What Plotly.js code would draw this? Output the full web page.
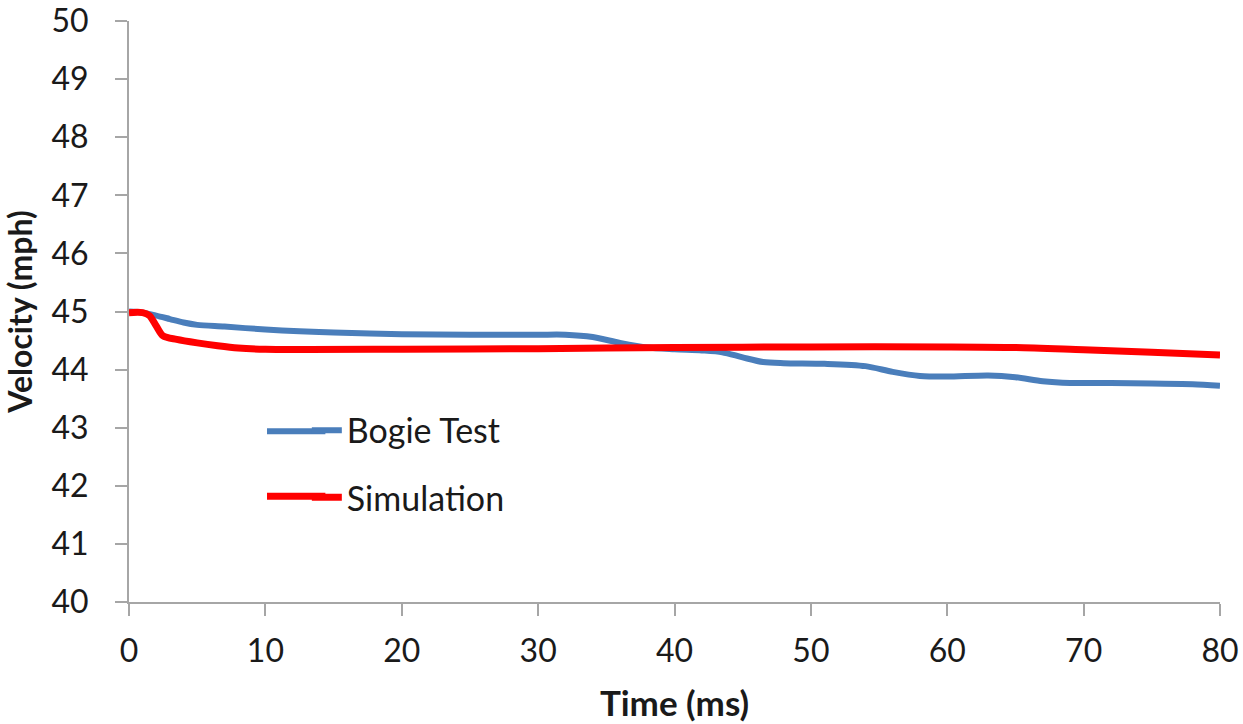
<!DOCTYPE html>
<html>
<head>
<meta charset="utf-8">
<script src="https://cdn.plot.ly/plotly-3.0.1.min.js"></script>
<style>html,body{margin:0;padding:0;background:#fff;}#chart{width:1243px;height:724px;}</style>
</head>
<body>
<div id="chart"></div>
<script>
// Bogie Test (measured) velocity, mph vs time, ms
var bogieTime = [0, 1, 2, 3, 4, 5, 7, 10, 12.5, 15, 20, 25, 30, 32, 34, 36, 38, 40, 42, 43.5, 45, 46.5, 48, 51, 54, 56, 58, 60, 63, 65, 67, 69, 72, 75, 78, 80];
var bogieVel  = [45.0, 44.98, 44.93, 44.87, 44.81, 44.77, 44.74, 44.69, 44.66, 44.64, 44.61, 44.60, 44.60, 44.60, 44.56, 44.46, 44.38, 44.35, 44.33, 44.30, 44.21, 44.13, 44.11, 44.10, 44.06, 43.96, 43.89, 43.88, 43.90, 43.87, 43.80, 43.77, 43.77, 43.76, 43.75, 43.72];
// Simulation velocity
var simTime = [0, 1, 1.5, 2, 2.5, 3.5, 5, 6.5, 8, 10, 20, 30, 40, 50, 60, 65, 70, 75, 80];
var simVel  = [44.98, 44.98, 44.93, 44.75, 44.58, 44.52, 44.46, 44.41, 44.37, 44.35, 44.35, 44.36, 44.38, 44.39, 44.39, 44.38, 44.34, 44.30, 44.25];

var xTicks = [0, 10, 20, 30, 40, 50, 60, 70, 80];
var yTicks = [40, 41, 42, 43, 44, 45, 46, 47, 48, 49, 50];

var FONT = 'Lato, "Open Sans", sans-serif';
var BLUE = '#4a7ebb', RED = '#ff0000';

var traces = [
  {x: bogieTime, y: bogieVel, name: 'Bogie Test', mode: 'lines', legendgroup: 'a',
   line: {color: BLUE, width: 6, shape: 'spline', smoothing: 0.8}},
  {x: simTime, y: simVel, name: 'Simulation', mode: 'lines', legendgroup: 'b',
   line: {color: RED, width: 7, shape: 'spline', smoothing: 0.8}}
];

var layout = {
  width: 1243, height: 724,
  margin: {l: 129, r: 23, t: 21, b: 122},
  paper_bgcolor: '#ffffff', plot_bgcolor: '#ffffff',
  font: {family: FONT, color: '#1a1a1a', size: 32},
  showlegend: true,
  legend: {x: 0.163, y: 0.345, xanchor: 'left', yanchor: 'top',
           bgcolor: 'rgba(0,0,0,0)', font: {family: FONT, size: 34, color: '#1a1a1a'},
           traceorder: 'grouped', tracegroupgap: 20},
  // longer legend sample lines, as in the reference
  shapes: [
    {type: 'line', xref: 'paper', yref: 'paper', x0: 0.1265, x1: 0.18, y0: 0.2939, y1: 0.2939,
     line: {color: BLUE, width: 6}, layer: 'below'},
    {type: 'line', xref: 'paper', yref: 'paper', x0: 0.1265, x1: 0.18, y0: 0.1820, y1: 0.1820,
     line: {color: RED, width: 7}, layer: 'below'}
  ],
  xaxis: {
    range: [0, 80], tickvals: xTicks, ticktext: xTicks.map(String),
    showgrid: false, zeroline: false, showline: true, linecolor: '#a6a6a6', linewidth: 2,
    ticks: 'outside', ticklen: 12, tickcolor: '#a6a6a6', tickwidth: 2,
    ticklabelstandoff: 8, ticklabeloverflow: 'allow',
    tickfont: {family: FONT, size: 32, color: '#1a1a1a'},
    title: {text: 'Time (ms)', font: {family: FONT, size: 35, color: '#1a1a1a', weight: 'bold'}, standoff: 23}
  },
  yaxis: {
    range: [40, 50], tickvals: yTicks, ticktext: yTicks.map(String),
    showgrid: false, zeroline: false, showline: true, linecolor: '#a6a6a6', linewidth: 2,
    ticks: 'outside', ticklen: 12, tickcolor: '#a6a6a6', tickwidth: 2,
    ticklabelstandoff: 20, ticklabeloverflow: 'allow',
    tickfont: {family: FONT, size: 32, color: '#1a1a1a'},
    title: {text: 'Velocity (mph)', font: {family: FONT, size: 32, color: '#1a1a1a', weight: 'bold'}, standoff: 20}
  }
};

Plotly.newPlot('chart', traces, layout, {displayModeBar: false, staticPlot: true});
</script>
</body>
</html>
